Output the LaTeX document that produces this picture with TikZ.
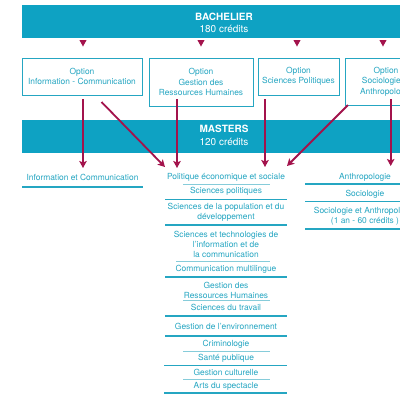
\documentclass[tikz,border=0pt]{standalone}
\usepackage{fontspec}
\setmainfont{TeX Gyre Heros}
\usetikzlibrary{arrows.meta}
\definecolor{band}{HTML}{0EA2C3}
\definecolor{tl}{HTML}{25A6C2}
\definecolor{thinl}{HTML}{86CCDA}
\definecolor{crim}{HTML}{A3134C}
\begin{document}
\begin{tikzpicture}[x=1pt,y=-1pt,
  every node/.style={inner sep=0pt, outer sep=0pt},
  bandbox/.style={fill=band, minimum width=406, minimum height=33, anchor=north west},
  bandtxt/.style={text=white, align=center, font=\fontsize{10}{12.6}\selectfont},
  optbox/.style={draw=tl, line width=0.9pt, fill=white, text=tl, align=center, font=\fontsize{8.4}{10.5}\selectfont},
  item/.style={text=tl, align=center, font=\fontsize{8.4}{10}\selectfont},
  sepA/.style={draw=tl, line width=1.1pt},
  sepB/.style={draw=thinl, line width=0.6pt},
  arr/.style={draw=crim, line width=1.8pt, -{Stealth[length=7pt,width=7.5pt,inset=1.5pt]}},
  tri/.style={fill=crim}
]
\useasboundingbox (0,0) rectangle (400,400);
\fill[white] (0,0) rectangle (400,400);
% bands
\node[bandbox] (bach) at (22,5) {};
\node[bandtxt] (bacht) at (224,23) {\textbf{BACHELIER}\\180 crédits};
\node[bandbox] (mast) at (22,120) {};
\node[bandtxt] (mastt) at (224,135.5) {\textbf{MASTERS}\\120 crédits};
% triangles
\foreach \x in {83,201,297,383}
  \fill[tri] (\x-3.6,40) -- (\x+3.6,40) -- (\x,46.5) -- cycle;
% option boxes
\node[optbox, minimum width=120, minimum height=37] (o1) at (82,76.5) {Option\\Information - Communication};
\node[optbox, minimum width=104, minimum height=48] (o2) at (201,82) {Option\\Gestion des\\Ressources Humaines};
\node[optbox, minimum width=81, minimum height=37] (o3) at (298.5,76.5) {Option\\Sciences Politiques};
\node[optbox, minimum width=82, minimum height=47] (o4) at (386,81.5) {Option\\Sociologie et\\Anthropologie};
% left column
\node[item] (li1) at (82.5,177) {Information et Communication};
\draw[sepA] (22,187) -- (143,187);
% middle column
\node[item] (mi1) at (226,177) {Politique économique et sociale};
\draw[sepB] (183,184.5) -- (270,184.5);
\node[item] (mi2) at (226,191) {Sciences politiques};
\draw[sepA] (165,199.5) -- (287,199.5);
\node[item] (mi3) at (226,212.5) {Sciences de la population et du\\développement};
\draw[sepA] (165,225) -- (287,225);
\node[item] (mi4) at (226,244) {Sciences et technologies de\\l’information et de\\la communication};
\draw[sepB] (176,261.5) -- (270,261.5);
\node[item] (mi5) at (226,269) {Communication multilingue};
\draw[sepA] (165,277) -- (287,277);
\node[item] (mi6) at (226,290) {Gestion des\\Ressources Humaines};
\draw[sepB] (183,300.5) -- (270,300.5);
\node[item] (mi7) at (226,307) {Sciences du travail};
\draw[sepA] (165,316) -- (287,316);
\node[item] (mi8) at (226,326) {Gestion de l’environnement};
\draw[sepA] (165,336) -- (287,336);
\node[item] (mi9) at (226,344.5) {Criminologie};
\draw[sepB] (183,351.7) -- (270,351.7);
\node[item] (mi10) at (226,358.5) {Santé publique};
\draw[sepA] (164,365.5) -- (287,365.5);
\node[item] (mi11) at (226,372) {Gestion culturelle};
\draw[sepB] (183,379) -- (270,379);
\node[item] (mi12) at (226,386) {Arts du spectacle};
\draw[sepA] (164,393) -- (287,393);
% right column
\node[item] (ri1) at (365,177) {Anthropologie};
\draw[sepA] (305,184) -- (430,184);
\node[item] (ri2) at (365,194) {Sociologie};
\draw[sepA] (305,201.7) -- (430,201.7);
\node[item] (ri3) at (365,216.5) {Sociologie et Anthropologie\\(1 an - 60 crédits )};
\draw[sepA] (305,229) -- (430,229);
% arrow targets
\coordinate (e1) at (83,168);
\coordinate (e2) at (165,167);
\coordinate (e3) at (177,168);
\coordinate (e4) at (265,167);
\coordinate (e5) at (287,166);
\coordinate (e6) at (390.7,166);
% arrows
\draw[arr] ([xshift=1pt,yshift=-4pt]o1.south) -- (e1);
\draw[arr] ([xshift=19.5pt,yshift=-7pt]o1.south) -- (e2);
\draw[arr] ([xshift=-24pt,yshift=7pt]o2.south) -- (e3);
\draw[arr] ([xshift=7pt,yshift=-4pt]o3.south west) -- (e4);
\draw[arr] ([xshift=3pt]o4.south west) -- (e5);
\draw[arr] ([xshift=4.7pt,yshift=6pt]o4.south) -- (e6);
\end{tikzpicture}
\end{document}
